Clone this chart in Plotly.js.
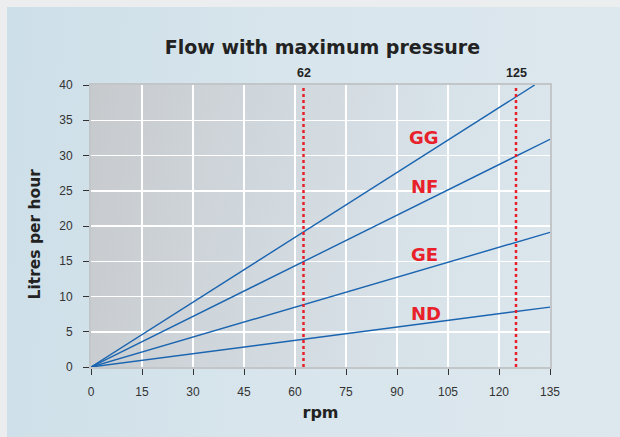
<!DOCTYPE html>
<html>
<head>
<meta charset="utf-8">
<script src="https://cdn.plot.ly/plotly-3.0.1.min.js"></script>
<style>
  html, body { margin:0; padding:0; width:620px; height:437px; overflow:hidden; background:#ebedef; }
  #panel { position:absolute; left:7px; top:7px; width:613px; height:430px;
    background: linear-gradient(95deg, #cddfe9 0%, #d8e5ec 45%, #dde8ee 100%); }
  #plotbg { position:absolute; left:91px; top:85px; width:459px; height:282px;
    background: linear-gradient(100deg, #c7cacd 0%, #d0d7dc 35%, #d8e2e9 70%, #dce6ed 100%); }
  #chart { position:absolute; left:0; top:0; width:620px; height:437px; }
</style>
</head>
<body>
<div id="panel"></div>
<div id="plotbg"></div>
<div id="chart"></div>
<script>
// Data
const rpmPoints = [0, 135];
const series = ["GG", "NF", "GE", "ND"];
const flowGG = [0, 40];      // GG reaches 40 l/h at about 130.5 rpm
const rpmGG = [0, 130.5];
const flowNF = [0, 32.3];
const flowGE = [0, 19.1];
const flowND = [0, 8.5];
const markerRpm = [62.5, 125];
const markerLabels = ["62", "125"];
const labelRpm = [98, 98, 98, 98.5];
const labelFlow = [32.6, 25.6, 16.0, 7.6];
const xTicks = [0, 15, 30, 45, 60, 75, 90, 105, 120, 135];
const yTicks = [0, 5, 10, 15, 20, 25, 30, 35, 40];

const blue = '#1a64b0';
const red = '#e8202a';
const heavy = 'DejaVu Sans, Liberation Sans, Arial, sans-serif';
const plain = 'Liberation Sans, Arial, sans-serif';
const lineStyle = {color: blue, width: 1.4};

const traces = [
  {x: rpmGG, y: flowGG, name: series[0]},
  {x: rpmPoints, y: flowNF, name: series[1]},
  {x: rpmPoints, y: flowGE, name: series[2]},
  {x: rpmPoints, y: flowND, name: series[3]}
].map(t => Object.assign(t, {type: 'scatter', mode: 'lines', line: lineStyle, hoverinfo: 'skip', showlegend: false}));

markerRpm.forEach(r => traces.push({
  x: [r, r], y: [0, 40], type: 'scatter', mode: 'lines',
  line: {color: red, width: 2.5, dash: 'dot'}, showlegend: false, hoverinfo: 'skip'
}));

const annotations = [];
series.forEach((s, i) => annotations.push({
  x: labelRpm[i], y: labelFlow[i], xref: 'x', yref: 'y', text: '<b>' + s + '</b>', showarrow: false,
  font: {family: heavy, size: 18, color: red}
}));
markerRpm.forEach((r, i) => annotations.push({
  x: r, y: 1, xref: 'x', yref: 'paper', yanchor: 'bottom', yshift: 3, text: '<b>' + markerLabels[i] + '</b>',
  showarrow: false, font: {family: plain, size: 12.5, color: '#222'}
}));
// y-axis title, placed as in the reference (slightly below plot centre)
annotations.push({
  x: 0, y: 0.47, xref: 'paper', yref: 'paper', xanchor: 'center', yanchor: 'middle', xshift: -56,
  text: '<b>Litres per hour</b>', textangle: -90, showarrow: false,
  font: {family: heavy, size: 15.5, color: '#222'}
});

const axisCommon = {
  showgrid: true, gridcolor: '#ffffff', gridwidth: 1.5,
  showline: true, linecolor: '#c2c6c9', linewidth: 2, mirror: true,
  ticks: 'outside', ticklen: 6, tickcolor: '#333', tickwidth: 1,
  zeroline: false,
  tickfont: {family: plain, size: 12, color: '#333'}
};

const layout = {
  width: 620, height: 437,
  margin: {l: 91, r: 70, t: 85, b: 70},
  paper_bgcolor: 'rgba(0,0,0,0)', plot_bgcolor: 'rgba(0,0,0,0)',
  title: {text: '<b>Flow with maximum pressure</b>', x: 0.52, xanchor: 'center', y: 0.892, yanchor: 'middle',
    font: {family: heavy, size: 19, color: '#222'}},
  xaxis: Object.assign({}, axisCommon, {range: [0, 135], tickvals: xTicks, ticklabelstandoff: 7,
    title: {text: '<b>rpm</b>', standoff: 8, font: {family: heavy, size: 16, color: '#222'}}}),
  yaxis: Object.assign({}, axisCommon, {range: [0, 40], tickvals: yTicks, ticklabelstandoff: 8}),
  annotations: annotations
};

Plotly.newPlot('chart', traces, layout, {displayModeBar: false, staticPlot: true});
</script>
</body>
</html>
